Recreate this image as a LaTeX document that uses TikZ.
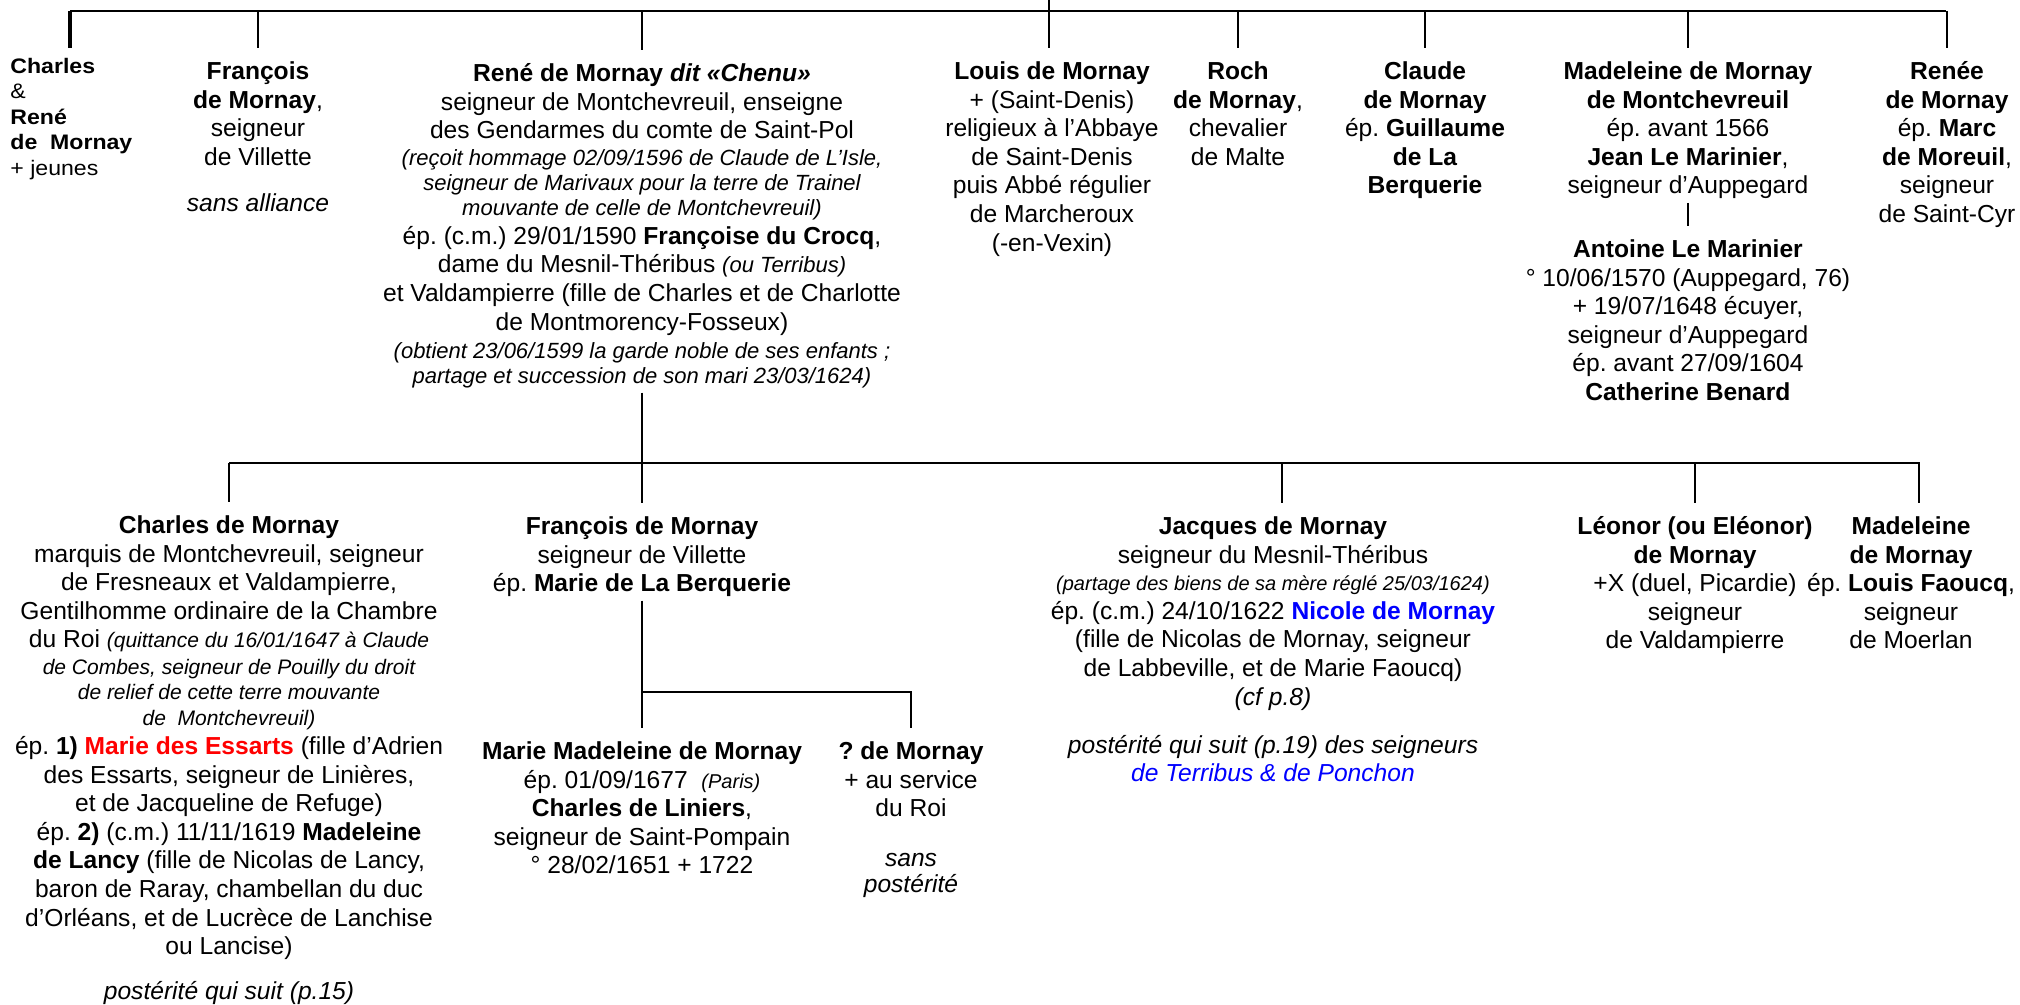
\documentclass[tikz,border=0pt]{standalone}
\usepackage{fontspec}
\setmainfont{Liberation Sans}
\newfontfamily\widesans[FakeStretch=1.1]{Liberation Sans}
\frenchspacing

\definecolor{rouge}{RGB}{255,0,0}
\definecolor{bleu}{RGB}{0,0,255}

% small italic remarks
\newcommand{\annot}[2][10.5]{{\fontsize{#1}{12.5}\selectfont\itshape #2}}

\tikzset{
  personne/.style={anchor=north, align=center, inner sep=0pt,
    font=\fontsize{12.3}{14.3}\selectfont},
  lien/.style={line width=1pt, shorten >=5.5pt},
}

\begin{document}
\begin{tikzpicture}[x=0.5pt, y=-0.5pt]

    \fill[white] (0,0) rectangle (2020,1005);
    \useasboundingbox (0,0) rectangle (2020,1005);

    % Bar of the first generation
    \coordinate (top) at (1049,0);
    \coordinate (barL) at (70,11);
    \coordinate (barR) at (1946,11);

    % First generation
    \node[anchor=north west, align=left, inner sep=0pt,
      font=\widesans\fontsize{10.5}{12.75}\selectfont] (charlesA) at (10,55)
      {\strut\textbf{Charles}\\ \&\\ \textbf{René}\\ \textbf{de\ \ Mornay}\\ + jeunes\strut};

    \node[personne] (francoisA) at (258,59)
      {\strut\textbf{François}\\ \textbf{de Mornay},\\ seigneur\\ de Villette\\[8.7pt]
       \textit{sans alliance}\strut};

    \node[personne] (reneA) at (642,61)
      {\strut\textbf{René de Mornay \textit{dit «Chenu»}}\\
       seigneur de Montchevreuil, enseigne\\
       des Gendarmes du comte de Saint-Pol\\[-0.8pt]
       \annot[11]{(reçoit hommage 02/09/1596 de Claude de L’Isle,}\\[-1.8pt]
       \annot[11]{seigneur de Marivaux pour la terre de Trainel}\\[-1.8pt]
       \annot[11]{mouvante de celle de Montchevreuil)}\\
       ép. (c.m.) 29/01/1590 \textbf{Françoise du Crocq},\\
       dame du Mesnil-Théribus \annot[11]{(ou Terribus)}\\
       et Valdampierre (fille de Charles et de Charlotte\\
       de Montmorency-Fosseux)\\
       \annot[11]{(obtient 23/06/1599 la garde noble de ses enfants ;}\\[-1.8pt]
       \annot[11]{partage et succession de son mari 23/03/1624)}\strut};

    \node[personne] (louisA) at (1052,59)
      {\strut\textbf{Louis de Mornay}\\ + (Saint-Denis)\\ religieux à l’Abbaye\\
       de Saint-Denis\\ puis Abbé régulier\\ de Marcheroux\\ (-en-Vexin)\strut};

    \node[personne] (rochA) at (1238,59)
      {\strut\textbf{Roch}\\ \textbf{de Mornay},\\ chevalier\\ de Malte\strut};

    \node[personne] (claudeA) at (1425,59)
      {\strut\textbf{Claude}\\ \textbf{de Mornay}\\ ép. \textbf{Guillaume}\\
       \textbf{de La}\\ \textbf{Berquerie}\strut};

    \node[personne] (madeleineA) at (1688,59)
      {\strut\textbf{Madeleine de Mornay}\\ \textbf{de Montchevreuil}\\ ép. avant 1566\\
       \textbf{Jean Le Marinier},\\ seigneur d’Auppegard\strut};

    \node[personne] (antoine) at (1688,237)
      {\strut\textbf{Antoine Le Marinier}\\ ° 10/06/1570 (Auppegard, 76)\\
       + 19/07/1648 écuyer,\\ seigneur d’Auppegard\\ ép. avant 27/09/1604\\
       \textbf{Catherine Benard}\strut};

    \node[personne] (reneeA) at (1947,59)
      {\strut\textbf{Renée}\\ \textbf{de Mornay}\\ ép. \textbf{Marc}\\
       \textbf{de Moreuil},\\ seigneur\\ de Saint-Cyr\strut};

    % Second generation
    \coordinate (bar2L) at (229,463);

    \node[personne] (charlesB) at (229,513)
      {\strut\textbf{Charles de Mornay}\\
       marquis de Montchevreuil, seigneur\\
       de Fresneaux et Valdampierre,\\
       Gentilhomme ordinaire de la Chambre\\
       du Roi \annot{(quittance du 16/01/1647 à Claude}\\[-0.8pt]
       \annot{de Combes, seigneur de Pouilly du droit}\\[-1.8pt]
       \annot{de relief de cette terre mouvante}\\[-1.3pt]
       \annot{de\ \ Montchevreuil)}\\
       ép. \textbf{1)} \textcolor{rouge}{\textbf{Marie des Essarts}} (fille d’Adrien\\
       des Essarts, seigneur de Linières,\\
       et de Jacqueline de Refuge)\\
       ép. \textbf{2)} (c.m.) 11/11/1619 \textbf{Madeleine}\\
       \textbf{de Lancy} (fille de Nicolas de Lancy,\\
       baron de Raray, chambellan du duc\\
       d’Orléans, et de Lucrèce de Lanchise\\
       ou Lancise)\\[8.3pt]
       \textit{postérité qui suit (p.15)}\strut};

    \node[personne] (francoisB) at (642,514)
      {\strut\textbf{François de Mornay}\\ seigneur de Villette\\
       ép. \textbf{Marie de La Berquerie}\strut};

    \node[personne] (jacquesB) at (1273,514)
      {\strut\textbf{Jacques de Mornay}\\
       seigneur du Mesnil-Théribus\\[-0.5pt]
       \annot[10]{(partage des biens de sa mère réglé 25/03/1624)}\\
       ép. (c.m.) 24/10/1622 \textcolor{bleu}{\textbf{Nicole de Mornay}}\\
       (fille de Nicolas de Mornay, seigneur\\
       de Labbeville, et de Marie Faoucq)\\
       \textit{(cf p.8)}\\[9.7pt]
       \textit{postérité qui suit (p.19) des seigneurs}\\
       \textcolor{bleu}{\textit{de Terribus \& de Ponchon}}\strut};

    \node[personne] (leonorB) at (1695,514)
      {\strut\textbf{Léonor (ou Eléonor)}\\ \textbf{de Mornay}\\ +X (duel, Picardie)\\
       seigneur\\ de Valdampierre\strut};

    \node[personne] (madeleineB) at (1911,514)
      {\strut\textbf{Madeleine}\\ \textbf{de Mornay}\\ ép. \textbf{Louis Faoucq},\\
       seigneur\\ de Moerlan\strut};

    % Third generation
    \coordinate (fork3) at (642,692);

    \node[personne] (marieC) at (642,739)
      {\strut\textbf{Marie Madeleine de Mornay}\\ ép. 01/09/1677\ \ \annot[10]{(Paris)}\\
       \textbf{Charles de Liniers},\\ seigneur de Saint-Pompain\\
       ° 28/02/1651 + 1722\strut};

    \node[personne] (inconnuC) at (911,739)
      {\strut\textbf{? de Mornay}\\ + au service\\ du Roi\\[10.7pt]
       \textit{sans}\\[-1.3pt] \textit{postérité}\strut};

    % Connectors of the first generation
    \draw[line width=1.3pt] (barL) -- (barR);
    \draw[lien] (top) -- (top |- louisA.north);
    \draw[lien, line width=2.2pt, shorten >=3.5pt] (barL) -- (barL |- charlesA.north);
    \foreach \n in {francoisA, reneA, rochA, claudeA, madeleineA, reneeA}
      \draw[lien] (barL -| \n.north) -- (\n.north);
    \draw[lien] (madeleineA.south) -- (antoine.north);

    % Connectors of the second generation
    \draw[lien] (reneA.south) -- (francoisB.north);
    \draw[lien] (bar2L) -| ([xshift=4pt]madeleineB.north);
    \draw[lien] (bar2L) -- (charlesB.north);
    \draw[lien] ([xshift=4.5pt]jacquesB.north |- bar2L) -- ([xshift=4.5pt]jacquesB.north);
    \draw[lien] (bar2L -| leonorB.north) -- (leonorB.north);

    % Connectors of the third generation
    \draw[lien] (francoisB.south) -- (marieC.north);
    \draw[lien] (fork3) -| (inconnuC.north);

\end{tikzpicture}
\end{document}
